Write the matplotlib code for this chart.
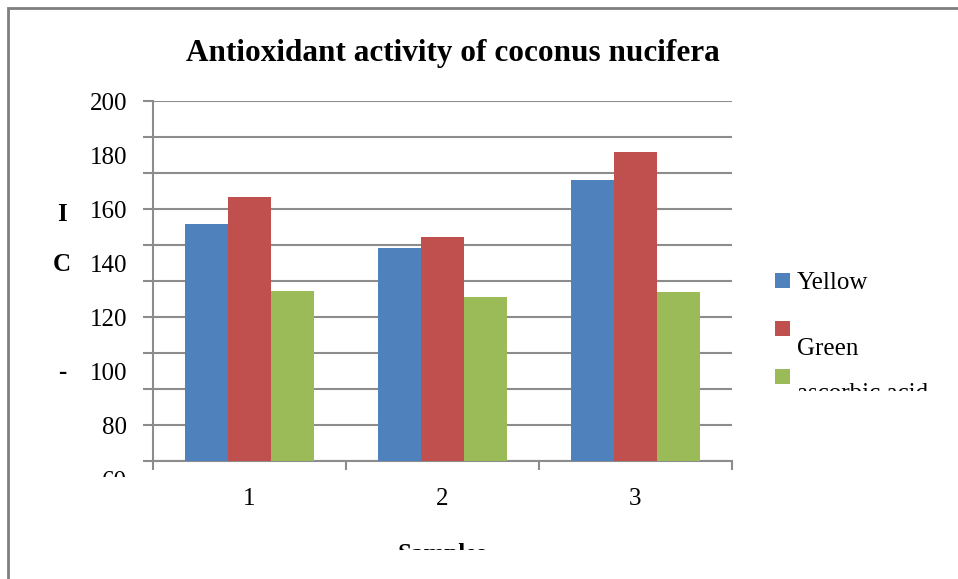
import numpy as np
import matplotlib.pyplot as plt
from matplotlib.patches import Rectangle
from matplotlib.transforms import offset_copy

plt.rcParams['font.family'] = ['Liberation Serif', 'DejaVu Serif']

samples = ["1", "2", "3"]
yellow = [154.4, 145.7, 170.7]
green = [164.3, 149.6, 181.1]
ascorbic = [129.7, 127.5, 129.3]
series_names = ["Yellow", "Green", "ascorbic acid"]
colors = ["#4F81BD", "#C0504D", "#9BBB59"]
y_labels = [60, 80, 100, 120, 140, 160, 180, 200]

W, H = 958, 579
fig = plt.figure(figsize=(W / 100, H / 100), dpi=100)
ax = fig.add_axes([153 / W, 1 - 461 / H, (732 - 153) / W, 360 / H])


def clip_below(artist, ypix):
    # hide the part of a text that lies below pixel row ypix
    artist.set_clip_on(True)
    artist.set_clip_box(None)
    artist.set_clip_path(Rectangle((0, 1 - ypix / H), 1, ypix / H,
                                   transform=fig.transFigure))


# outer chart frame
fig.add_artist(Rectangle((8 / W, -0.1), 1.2, 1 - 8 / H + 0.1, transform=fig.transFigure,
                         fill=False, edgecolor="#7f7f7f", linewidth=2))

x = np.arange(len(samples))
bw = 0.222
bars = []
for i, vals in enumerate([yellow, green, ascorbic]):
    bars.append(ax.bar(x + (i - 1) * bw, vals, width=bw, color=colors[i], zorder=3))

ymin, ymax = 66.67, 200
ax.set_ylim(ymin, ymax)
ax.set_xlim(-0.5, 2.5)
grid = np.linspace(ymin, ymax, 11)
ax.set_yticks(grid)
ax.set_yticklabels([])
ax.yaxis.grid(True, color="#8c8c8c", linewidth=1.5, zorder=0)
ax.set_xticks([-0.5, 0.5, 1.5, 2.5])
ax.set_xticklabels([])
ax.tick_params(axis="y", length=7, width=1.5, color="#8c8c8c", direction="out")
ax.tick_params(axis="x", length=6.5, width=1.5, color="#8c8c8c", direction="out")
for s in ["top", "right"]:
    ax.spines[s].set_visible(False)
for s in ["left", "bottom"]:
    ax.spines[s].set_color("#8c8c8c")
    ax.spines[s].set_linewidth(1.5)

# y labels (drawn on their own scale like the original)
ylab_tr = offset_copy(ax.get_yaxis_transform(), fig=fig, y=-3, units="dots")
for v in y_labels:
    t = ax.text(-0.045, v, str(v), transform=ylab_tr, ha="right",
                va="center", fontsize=18, clip_on=False)
    if v == 60:
        clip_below(t, 477)

for xi, s in zip(x, samples):
    ax.text(xi, -0.105, s, transform=ax.get_xaxis_transform(), ha="center",
            va="center", fontsize=18)

for ch, yp in [("I", 214), ("C", 265), ("-", 373)]:
    fig.text(62 / W, 1 - yp / H, ch, ha="center", va="center", fontsize=18,
             fontweight="bold")

fig.text(453 / W, 1 - 54 / H, "Antioxidant activity of coconus nucifera",
         ha="center", va="center", fontsize=22.5, fontweight="bold")

t = fig.text(442 / W, 1 - 555 / H, "Samples", ha="center", va="center",
             fontsize=18, fontweight="bold")
clip_below(t, 550)

# legend, laid out as in the original
legend_rows = [(273, 283), (321, 349), (369, 394)]
for (sq, ty), name, b in zip(legend_rows, series_names, bars):
    fig.add_artist(Rectangle((775 / W, 1 - (sq + 15) / H), 15 / W, 15 / H,
                             transform=fig.transFigure,
                             facecolor=b.patches[0].get_facecolor(), edgecolor="none"))
    t = fig.text(797 / W, 1 - ty / H, name, ha="left", va="center", fontsize=18)
    if name == "ascorbic acid":
        clip_below(t, 391)

fig.savefig("out.png", dpi=100)
